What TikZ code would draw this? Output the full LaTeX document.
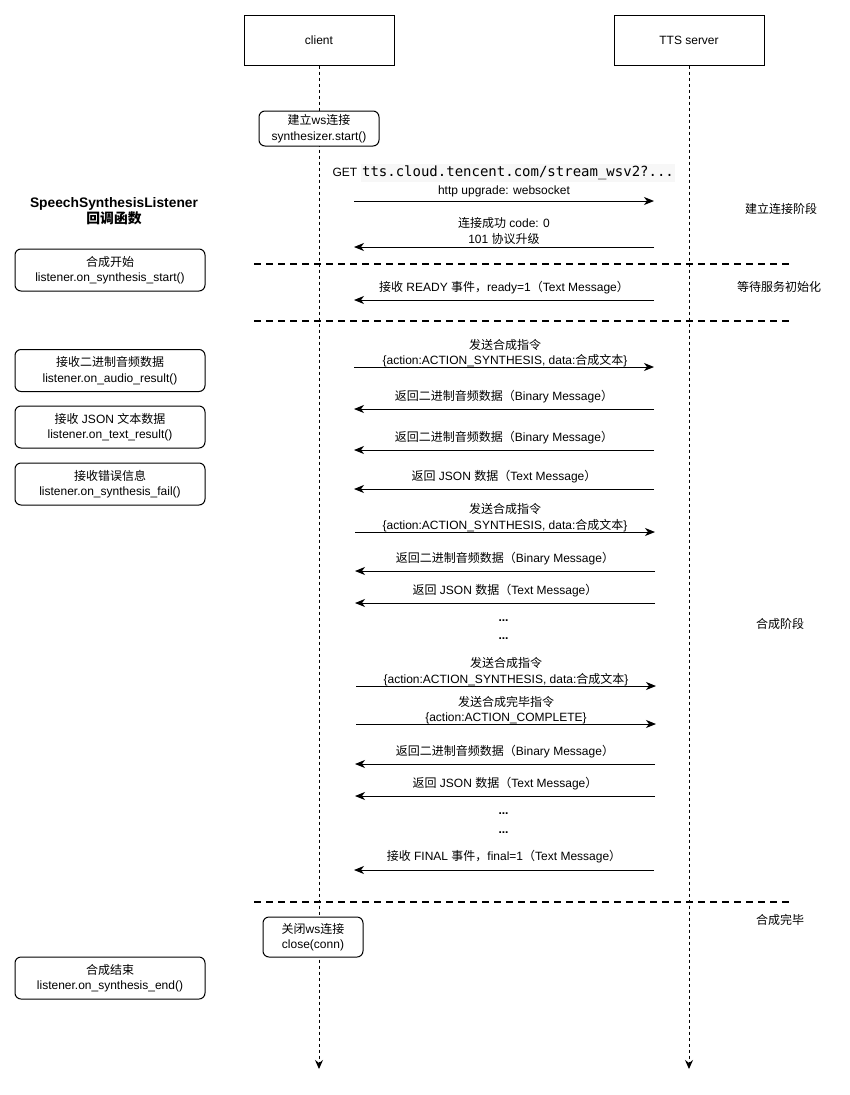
\documentclass[tikz,border=0pt]{standalone}
\usepackage{fontspec}
\setmainfont{Liberation Sans}
\newfontfamily\zhfont{Noto Sans CJK SC}
\newfontfamily\codefont{DejaVu Sans Mono}
\usepackage{xcolor}
\usetikzlibrary{arrows.meta}
\definecolor{codebg}{HTML}{F7F7F7}
\newcommand{\zh}[1]{{\zhfont #1}}
\newcommand{\code}[1]{{\setlength{\fboxsep}{1.5pt}\colorbox{codebg}{\codefont\fontsize{14}{16}\selectfont #1}}}

\begin{document}
\begin{tikzpicture}[x=1pt, y=-1pt, font=\fontsize{12}{15.5}\selectfont,
  actor/.style={draw, line width=1pt, minimum width=150, minimum height=50},
  act/.style={draw, fill=white, line width=1pt, rounded corners=6pt, align=center, inner sep=0pt},
  cb/.style={act, minimum width=190, minimum height=42},
  lifeline/.style={line width=1pt, dash pattern=on 3pt off 3pt, -{Stealth[length=9pt, width=8pt, inset=3pt]}},
  msg/.style={line width=1pt, -{Stealth[length=10pt, width=8pt, inset=3pt]}},
  divider/.style={line width=2pt, dash pattern=on 7pt off 5pt},
  lbl/.style={align=center, inner sep=0pt}]
  \useasboundingbox (0,0) rectangle (850,1095);

  \node[actor] (client) at (319,40) {client}; %
  \node[actor] (server) at (689,40) {TTS server}; %
  \coordinate (client-end) at (319,1069);
  \coordinate (server-end) at (689,1069);
  \draw[lifeline] (client) -- (client-end);
  \draw[lifeline] (server) -- (server-end);

  \node[act, minimum width=120, minimum height=35] (start) at (319,128.5) {\zh{建立}ws\zh{连接}\\synthesizer.start()}; %
  \node[act, minimum width=100, minimum height=40] (close) at (313,937) {\zh{关闭}ws\zh{连接}\\close(conn)}; %

  % callbacks
  \node[lbl, font=\bfseries\fontsize{13.8}{16}\selectfont] (title) at (114,211) {SpeechSynthesisListener\\\zh{回调函数}};
  \node[cb] (on-start) at (110,270) {\zh{合成开始}\\listener.on\_synthesis\_start()}; %
  \node[cb] (on-audio) at (110,370.5) {\zh{接收二进制音频数据}\\listener.on\_audio\_result()}; %
  \node[cb] (on-text) at (110,427) {\zh{接收} JSON \zh{文本数据}\\listener.on\_text\_result()}; %
  \node[cb] (on-fail) at (110,484) {\zh{接收错误信息}\\listener.on\_synthesis\_fail()}; %
  \node[cb] (on-end) at (110,978) {\zh{合成结束}\\listener.on\_synthesis\_end()}; %

  % stages
  \coordinate (d1-l) at (254,264); \coordinate (d1-r) at (790,264);
  \coordinate (d2-l) at (254,321); \coordinate (d2-r) at (790,321);
  \coordinate (d3-l) at (254,902); \coordinate (d3-r) at (790,902);
  \draw[divider] (d1-l) -- (d1-r);
  \draw[divider] (d2-l) -- (d2-r);
  \draw[divider] (d3-l) -- (d3-r);
  \node[lbl] (st-connect) at (781,209) {\zh{建立连接阶段}};
  \node[lbl] (st-wait) at (779,287) {\zh{等待服务初始化}};
  \node[lbl] (st-synth) at (780,624) {\zh{合成阶段}};
  \node[lbl] (st-done) at (780,920) {\zh{合成完毕}};

  % handshake
  \node[lbl] (get) at (504,173) {GET \code{tts.cloud.tencent.com/stream\_wsv2?...}};
  \coordinate (c1) at (354,201); \coordinate (s1) at (654,201);
  \draw[msg] (c1) -- (s1);
  \node[lbl] (m1) at (504,191) {http upgrade: websocket};
  \coordinate (c2) at (354,247); \coordinate (s2) at (654,247);
  \draw[msg] (s2) -- (c2);
  \node[lbl] (m2) at (504,231) {\zh{连接成功} code: 0\\101 \zh{协议升级}};
  \coordinate (c3) at (354,300); \coordinate (s3) at (654,300);
  \draw[msg] (s3) -- (c3);
  \node[lbl] (m3) at (504,288) {\zh{接收} READY \zh{事件，}ready=1\zh{（}Text Message\zh{）}};

  % synthesis
  \coordinate (c4) at (354,367); \coordinate (s4) at (654,367);
  \draw[msg] (c4) -- (s4);
  \node[lbl] (m4) at (505,353) {\zh{发送合成指令}\\\{action:ACTION\_SYNTHESIS, data:\zh{合成文本}\}};
  \coordinate (c5) at (354,409); \coordinate (s5) at (654,409);
  \draw[msg] (s5) -- (c5);
  \node[lbl] (m5) at (504,397) {\zh{返回二进制音频数据（}Binary Message\zh{）}};
  \coordinate (c6) at (354,450); \coordinate (s6) at (654,450);
  \draw[msg] (s6) -- (c6);
  \node[lbl] (m6) at (504,438) {\zh{返回二进制音频数据（}Binary Message\zh{）}};
  \coordinate (c7) at (354,489); \coordinate (s7) at (654,489);
  \draw[msg] (s7) -- (c7);
  \node[lbl] (m7) at (504,477) {\zh{返回} JSON \zh{数据（}Text Message\zh{）}};
  \coordinate (c8) at (355,532); \coordinate (s8) at (655,532);
  \draw[msg] (c8) -- (s8);
  \node[lbl] (m8) at (505,517.5) {\zh{发送合成指令}\\\{action:ACTION\_SYNTHESIS, data:\zh{合成文本}\}};
  \coordinate (c9) at (355,571); \coordinate (s9) at (655,571);
  \draw[msg] (s9) -- (c9);
  \node[lbl] (m9) at (505,559) {\zh{返回二进制音频数据（}Binary Message\zh{）}};
  \coordinate (c10) at (355,603); \coordinate (s10) at (655,603);
  \draw[msg] (s10) -- (c10);
  \node[lbl] (m10) at (505,591) {\zh{返回} JSON \zh{数据（}Text Message\zh{）}};
  \node[lbl, anchor=base] (dots1) at (503.5,621) {\textbf{...}};
  \node[lbl, anchor=base] (dots2) at (503.5,639) {\textbf{...}};
  \coordinate (c11) at (356,686); \coordinate (s11) at (656,686);
  \draw[msg] (c11) -- (s11);
  \node[lbl] (m11) at (506,671.5) {\zh{发送合成指令}\\\{action:ACTION\_SYNTHESIS, data:\zh{合成文本}\}};
  \coordinate (c12) at (356,724); \coordinate (s12) at (656,724);
  \draw[msg] (c12) -- (s12);
  \node[lbl] (m12) at (506,710) {\zh{发送合成完毕指令}\\\{action:ACTION\_COMPLETE\}};
  \coordinate (c13) at (355,764); \coordinate (s13) at (655,764);
  \draw[msg] (s13) -- (c13);
  \node[lbl] (m13) at (505,752) {\zh{返回二进制音频数据（}Binary Message\zh{）}};
  \coordinate (c14) at (355,796); \coordinate (s14) at (655,796);
  \draw[msg] (s14) -- (c14);
  \node[lbl] (m14) at (505,784) {\zh{返回} JSON \zh{数据（}Text Message\zh{）}};
  \node[lbl, anchor=base] (dots3) at (503.5,814) {\textbf{...}};
  \node[lbl, anchor=base] (dots4) at (503.5,833) {\textbf{...}};
  \coordinate (c15) at (354,870); \coordinate (s15) at (654,870);
  \draw[msg] (s15) -- (c15);
  \node[lbl] (m15) at (504,857) {\zh{接收} FINAL \zh{事件，}final=1\zh{（}Text Message\zh{）}};
\end{tikzpicture}
\end{document}
